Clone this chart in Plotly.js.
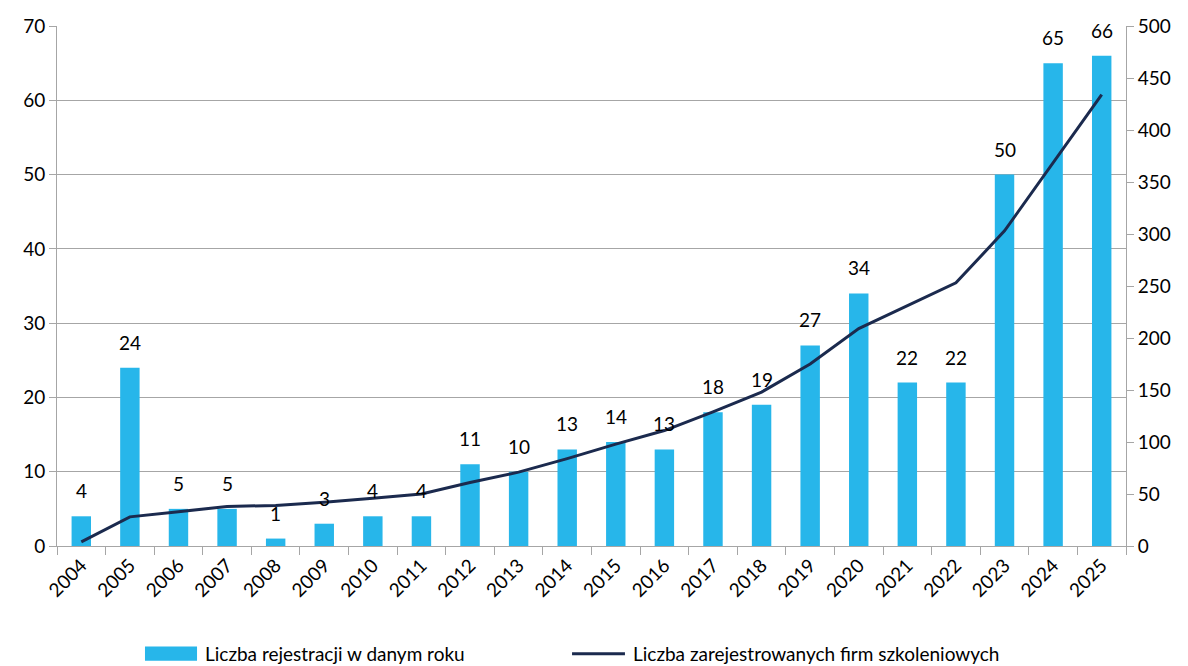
<!DOCTYPE html>
<html>
<head>
<meta charset="utf-8">
<script src="https://cdn.plot.ly/plotly-3.0.1.min.js"></script>
<style>html,body{margin:0;padding:0;background:#fff;}#chart{width:1188px;height:666px;}</style>
</head>
<body>
<div id="chart"></div>
<script>
const years = ['2004','2005','2006','2007','2008','2009','2010','2011','2012','2013','2014','2015','2016','2017','2018','2019','2020','2021','2022','2023','2024','2025'];
const registrations = [4,24,5,5,1,3,4,4,11,10,13,14,13,18,19,27,34,22,22,50,65,66];
const registeredFirms = [4,28,33,38,39,42,46,50,61,71,84,98,111,129,148,175,209,231,253,303,368,434];
const barName = 'Liczba rejestracji w danym roku';
const lineName = 'Liczba zarejestrowanych firm szkoleniowych';

const FONT = 'Lato, "Noto Sans", sans-serif';
const barColor = '#27B6EA';
const lineColor = '#1B2A4E';
const gridColor = '#A6A6A6';

const traces = [
  {type:'bar', x:years, y:registrations, name:barName, marker:{color:barColor}, yaxis:'y', showlegend:false},
  {type:'scatter', mode:'lines', x:years, y:registeredFirms, name:lineName, line:{color:lineColor, width:3}, yaxis:'y2', showlegend:false}
];

const annotations = years.map((yr,i)=>({
  x:i, y:registrations[i], xref:'x', yref:'y', text:String(registrations[i]),
  showarrow:false, yanchor:'bottom', yshift:12, font:{family:FONT, size:19, color:'#000'}
}));
const legY = -0.207;
annotations.push({xref:'paper', yref:'paper', x:0.1366, y:legY, xanchor:'left', yanchor:'middle', text:barName, showarrow:false, font:{family:FONT, size:19, color:'#000'}});
annotations.push({xref:'paper', yref:'paper', x:0.537, y:legY, xanchor:'left', yanchor:'middle', text:lineName, showarrow:false, font:{family:FONT, size:19, color:'#000'}});

const shapes = [
  {type:'rect', xref:'paper', yref:'paper', x0:0.0823, x1:0.1310, y0:legY+0.0135, y1:legY-0.0135, fillcolor:barColor, line:{width:0}},
  {type:'line', xref:'paper', yref:'paper', x0:0.4818, x1:0.5313, y0:legY, y1:legY, line:{color:lineColor, width:3}}
];

const layout = {
  width:1188, height:666,
  margin:{l:57, r:62, t:26, b:120},
  paper_bgcolor:'#fff', plot_bgcolor:'#fff',
  font:{family:FONT, size:19, color:'#000'},
  bargap:0.6,
  xaxis:{type:'category', range:[-0.5, years.length-0.5], tickangle:-45, ticks:'outside', tickson:'boundaries', ticklen:8, tickcolor:gridColor,
         showline:true, linecolor:gridColor, linewidth:1, showgrid:false, tickfont:{family:FONT, size:19}},
  yaxis:{range:[0,70], dtick:10, ticks:'outside', ticklen:7, tickcolor:gridColor, showline:true, linecolor:gridColor,
         gridcolor:gridColor, gridwidth:1, zeroline:false, tickfont:{family:FONT, size:19}},
  yaxis2:{range:[0,500], dtick:50, overlaying:'y', side:'right', ticks:'outside', ticklen:7, tickcolor:gridColor,
          showline:true, linecolor:gridColor, showgrid:false, zeroline:false, tickfont:{family:FONT, size:19}},
  annotations:annotations,
  shapes:shapes,
  showlegend:false
};

Plotly.newPlot('chart', traces, layout, {displayModeBar:false, staticPlot:true});
</script>
</body>
</html>
